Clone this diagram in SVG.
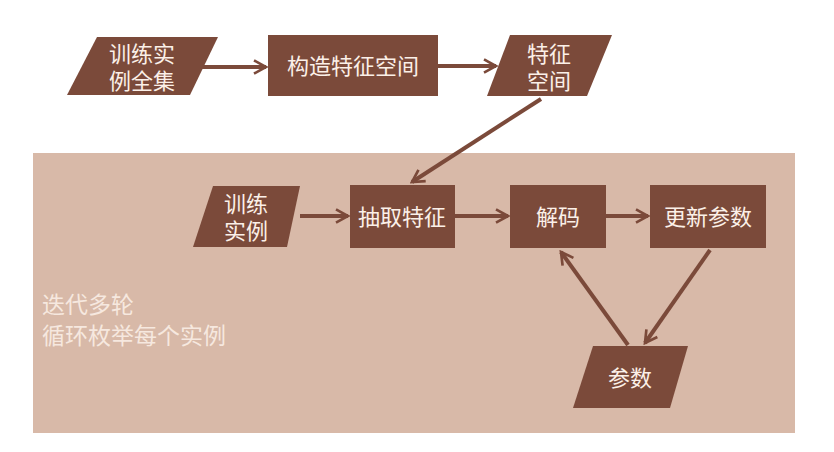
<svg xmlns="http://www.w3.org/2000/svg" width="834" height="452" viewBox="0 0 834 452">
<style>
.n{fill:#7b4a3a}
.t{font-family:"Liberation Sans","Noto Sans CJK SC",sans-serif;font-size:22px;fill:#fbf0e8;text-anchor:middle}
.l{font-family:"Liberation Sans","Noto Sans CJK SC",sans-serif;font-size:23px;fill:#f6e8df}
.c{stroke:#7b4a3a;stroke-width:4;fill:none;marker-end:url(#a)}
</style>
<defs>
<marker id="a" viewBox="0 0 12 12" refX="10" refY="6" markerWidth="4" markerHeight="4" orient="auto" markerUnits="strokeWidth">
<path d="M1,1 L10,6 L1,11" fill="none" stroke="#7b4a3a" stroke-width="2"/>
</marker>
</defs>
<rect width="834" height="452" fill="#ffffff"/>
<rect x="33" y="153" width="762" height="280" fill="#d8b9a8"/>
<g id="edges">
<line class="c" x1="190" y1="67" x2="266" y2="67"/>
<line class="c" x1="438" y1="66" x2="496" y2="66"/>
<line class="c" x1="541" y1="99" x2="412" y2="182"/>
<line class="c" x1="300" y1="216" x2="348" y2="216"/>
<line class="c" x1="455" y1="216" x2="508" y2="216"/>
<line class="c" x1="606" y1="216" x2="648" y2="216"/>
<line class="c" x1="710" y1="250" x2="645" y2="343"/>
<line class="c" x1="628" y1="345" x2="561" y2="252"/>
</g>
<g id="n1"><polygon class="n" points="97,37 218,37 190,95 67,95"/><text class="t"><tspan x="142" y="62">训练实</tspan><tspan x="142" dy="27">例全集</tspan></text></g>
<g id="n2"><rect class="n" x="268" y="35" width="170" height="61"/><text class="t" x="353" y="74">构造特征空间</text></g>
<g id="n3"><polygon class="n" points="510,35 612,35 587,96 487,96"/><text class="t"><tspan x="549" y="62">特征</tspan><tspan x="549" dy="27">空间</tspan></text></g>
<g id="n4"><polygon class="n" points="213,186 300,186 287,247 193,247"/><text class="t"><tspan x="246" y="212">训练</tspan><tspan x="246" dy="27">实例</tspan></text></g>
<g id="n5"><rect class="n" x="350" y="185" width="105" height="63"/><text class="t" x="402" y="225">抽取特征</text></g>
<g id="n6"><rect class="n" x="510" y="185" width="96" height="63"/><text class="t" x="558" y="225">解码</text></g>
<g id="n7"><rect class="n" x="650" y="185" width="116" height="63"/><text class="t" x="708" y="225">更新参数</text></g>
<g id="n8"><polygon class="n" points="593,346 688,346 670,408 573,408"/><text class="t" x="630" y="386">参数</text></g>
<g id="label"><text class="l"><tspan x="42" y="313">迭代多轮</tspan><tspan x="42" dy="31">循环枚举每个实例</tspan></text></g>
</svg>
